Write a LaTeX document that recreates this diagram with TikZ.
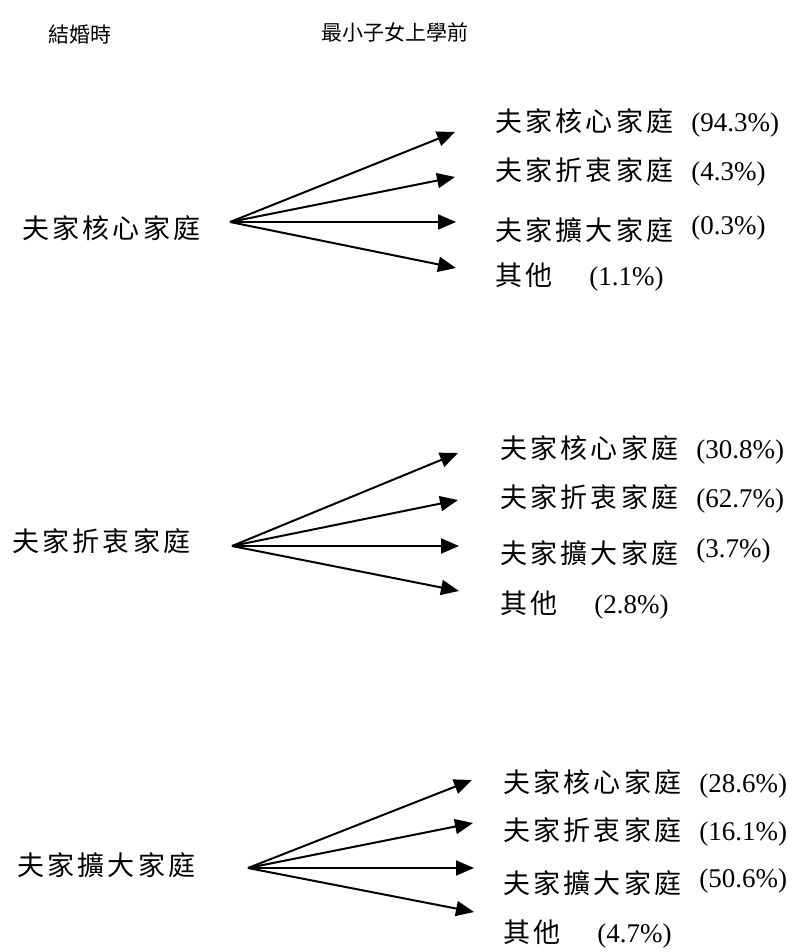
\documentclass[tikz,border=0pt]{standalone}
\usepackage{fontspec}
\setmainfont{Liberation Serif}
\newfontfamily\cjk{Noto Sans CJK TC}
\newfontfamily\cjkw[LetterSpace=12]{Noto Sans CJK TC}
\newcommand\pctf{\fontsize{27}{27}\selectfont\rmfamily}
\usetikzlibrary{arrows.meta}

\begin{document}
\begin{tikzpicture}[x=1pt,y=-1pt]
\tikzstyle{head}=[anchor=base, inner sep=0pt, font=\fontsize{21}{21}\selectfont\cjk]
\tikzstyle{fam}=[anchor=base west, inner sep=0pt, font=\fontsize{27}{27}\selectfont\cjkw]
\tikzstyle{branch}=[line width=2pt, -{Triangle[length=18pt,width=15pt]}]
\useasboundingbox (0,0) rectangle (792,952);

% column headings
\node[head] (hwed) at (80,43) {結婚時};
\node[head] (hkid) at (395,41) {最小子女上學前};

% at marriage: nuclear
\node[fam] (nuc) at (22,238) {夫家核心家庭};
\coordinate (snuc) at (230,222);
\node[fam] (nuca) at (495,132) {夫家核心家庭\hspace{18pt}{\pctf (94.3\%)}};
\node[fam] (nucb) at (495,180) {夫家折衷家庭\hspace{18pt}{\pctf (4.3\%)}};
\node[fam] (nucc) at (495,240) {夫家擴大家庭\hspace{18pt}\raisebox{6pt}{\pctf (0.3\%)}};
\node[fam] (nucd) at (495,285) {其他\hspace{37pt}{\pctf (1.1\%)}};
\coordinate (tnuca) at (455,132);
\coordinate (tnucb) at (455,177);
\coordinate (tnucc) at (456,222);
\coordinate (tnucd) at (456,268);
\draw[branch] (snuc) -- (tnuca);
\draw[branch] (snuc) -- (tnucb);
\draw[branch] (snuc) -- (tnucc);
\draw[branch] (snuc) -- (tnucd);

% at marriage: stem
\node[fam] (stm) at (12,551) {夫家折衷家庭};
\coordinate (sstm) at (232,546);
\node[fam] (stma) at (500,458) {夫家核心家庭\hspace{18pt}{\pctf (30.8\%)}};
\node[fam] (stmb) at (500,507) {夫家折衷家庭\hspace{18pt}{\pctf (62.7\%)}};
\node[fam] (stmc) at (500,563) {夫家擴大家庭\hspace{18pt}\raisebox{6pt}{\pctf (3.7\%)}};
\node[fam] (stmd) at (500,613) {其他\hspace{37pt}{\pctf (2.8\%)}};
\coordinate (tstma) at (458,453);
\coordinate (tstmb) at (458,500);
\coordinate (tstmc) at (459,546);
\coordinate (tstmd) at (459,591);
\draw[branch] (sstm) -- (tstma);
\draw[branch] (sstm) -- (tstmb);
\draw[branch] (sstm) -- (tstmc);
\draw[branch] (sstm) -- (tstmd);

% at marriage: extended
\node[fam] (ext) at (17,875) {夫家擴大家庭};
\coordinate (sext) at (248,868);
\node[fam] (exta) at (503,792) {夫家核心家庭\hspace{18pt}{\pctf (28.6\%)}};
\node[fam] (extb) at (503,840) {夫家折衷家庭\hspace{18pt}{\pctf (16.1\%)}};
\node[fam] (extc) at (503,893) {夫家擴大家庭\hspace{18pt}\raisebox{6pt}{\pctf (50.6\%)}};
\node[fam] (extd) at (503,942) {其他\hspace{37pt}{\pctf (4.7\%)}};
\coordinate (texta) at (472,780);
\coordinate (textb) at (473,823);
\coordinate (textc) at (474,868);
\coordinate (textd) at (474,912);
\draw[branch] (sext) -- (texta);
\draw[branch] (sext) -- (textb);
\draw[branch] (sext) -- (textc);
\draw[branch] (sext) -- (textd);
\end{tikzpicture}
\end{document}
